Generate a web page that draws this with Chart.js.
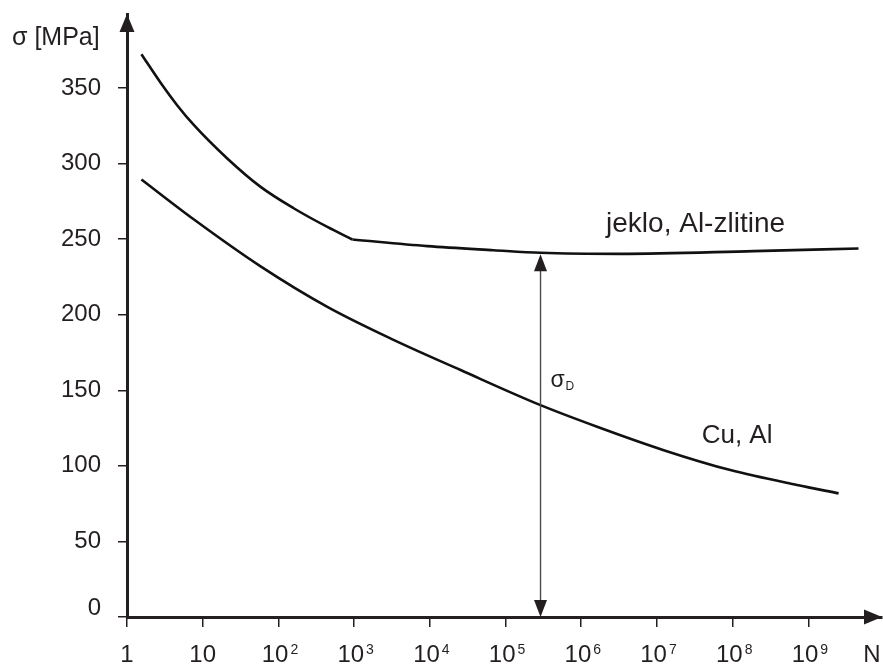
<!DOCTYPE html>
<html>
<head>
<meta charset="utf-8">
<script src="https://cdn.jsdelivr.net/npm/chart.js@4.4.1/dist/chart.umd.min.js"></script>
<style>
  html, body { margin: 0; padding: 0; background: #ffffff; }
  #wrap { width: 883px; height: 666px; }
</style>
</head>
<body>
<div id="wrap"><canvas id="chart" width="883" height="666"></canvas></div>
<script>
// Wöhler (S-N) curves: fatigue strength σ [MPa] against number of load cycles N.

// Steel / Al alloys: falling branch down to the knee at ~10^3 cycles
const steelDropN     = [1.55, 2.78, 4.62, 7.67, 21.1, 58.2, 161, 443, 948];
const steelDropSigma = [372.4, 353.5, 338.5, 325.4, 303.4, 284.6, 270.3, 258.1, 249.8];

// Steel / Al alloys: nearly horizontal endurance branch after the knee
const steelLimitN     = [948, 9.3e3, 7.0e4, 2.9e5, 3.3e6, 1.9e8, 4.6e9];
const steelLimitSigma = [249.8, 245.4, 242.7, 241.0, 240.3, 242.1, 243.8];

// Cu, Al: keeps falling, no distinct endurance limit
const cuAlN     = [1.55, 7.67, 58.2, 443, 3.37e3, 2.55e4, 2.9e5, 1.62e6, 1.23e7, 9.33e7, 7.1e8, 2.51e9];
const cuAlSigma = [289.5, 263.0, 232.0, 205.2, 183.2, 163.4, 140.2, 125.9, 110.4, 97.2, 87.3, 81.8];

// Endurance strength σD marked at N = 2.9·10^5
const sigmaDN = 2.9e5;
const sigmaDValue = 241;

// Axis ticks
const xTickValues    = [1, 1e1, 1e2, 1e3, 1e4, 1e5, 1e6, 1e7, 1e8, 1e9];
const xTickBases     = ['1', '10', '10 ', '10 ', '10 ', '10 ', '10 ', '10 ', '10 ', '10 '];
const xTickExponents = ['', '', '2', '3', '4', '5', '6', '7', '8', '9'];
const yTickValues    = [0, 50, 100, 150, 200, 250, 300, 350];
const yTickLabels    = ['0', '50', '100', '150', '200', '250', '300', '350'];

const INK = '#231f20';
const FONT = "'Liberation Sans', Arial, Helvetica, sans-serif";

Chart.defaults.font.family = FONT;
Chart.defaults.color = INK;

const toPoints = (xs, ys) => xs.map((n, i) => ({ x: n, y: ys[i] }));

function arrowHead(ctx, tipX, tipY, dirX, dirY, len, halfW) {
  // dir is a unit vector pointing toward the tip
  const bx = tipX - dirX * len, by = tipY - dirY * len;
  const px = -dirY, py = dirX;
  ctx.beginPath();
  ctx.moveTo(tipX, tipY);
  ctx.lineTo(bx + px * halfW, by + py * halfW);
  ctx.lineTo(bx - px * halfW, by - py * halfW);
  ctx.closePath();
  ctx.fill();
}

const figureExtras = {
  id: 'figureExtras',
  afterDraw(chart) {
    const { ctx, chartArea: a, scales: { x, y } } = chart;
    ctx.save();
    ctx.fillStyle = INK;
    ctx.strokeStyle = INK;

    // arrowheads on the axes
    arrowHead(ctx, a.left, a.top, 0, -1, 18, 7.5);
    arrowHead(ctx, a.right, a.bottom, 1, 0, 18, 7.5);

    // exponents of the decade tick labels
    ctx.font = '14px ' + FONT;
    ctx.textAlign = 'left';
    ctx.textBaseline = 'alphabetic';
    xTickValues.forEach((v, i) => {
      if (!xTickExponents[i]) return;
      ctx.fillText(xTickExponents[i], x.getPixelForValue(v) + 12, a.bottom + 36.5);
    });

    // axis names
    ctx.font = '24px ' + FONT;
    ctx.textAlign = 'center';
    ctx.textBaseline = 'middle';
    ctx.fillText('N', a.right - 10, a.bottom + 38.5);
    ctx.font = '25px ' + FONT;
    ctx.textAlign = 'left';
    ctx.textBaseline = 'alphabetic';
    ctx.fillText('σ [MPa]', a.left - 115, 45);

    // σD double arrow between N-axis and the endurance branch
    const ax = x.getPixelForValue(sigmaDN);
    const yBottom = y.getPixelForValue(0);
    const yTop = y.getPixelForValue(sigmaDValue) + 1.5;
    ctx.strokeStyle = '#4a4a4a';
    ctx.fillStyle = INK;
    ctx.lineWidth = 1.4;
    ctx.beginPath();
    ctx.moveTo(ax, yTop + 10);
    ctx.lineTo(ax, yBottom - 10);
    ctx.stroke();
    arrowHead(ctx, ax, yTop, 0, -1, 17, 6.5);
    arrowHead(ctx, ax, yBottom, 0, 1, 17, 6.5);

    ctx.fillStyle = INK;
    ctx.font = '23px ' + FONT;
    ctx.fillText('σ', ax + 10, y.getPixelForValue(152.5));
    ctx.font = '12px ' + FONT;
    ctx.fillText('D', ax + 25, y.getPixelForValue(150.5));

    // curve names
    ctx.font = '28px ' + FONT;
    ctx.fillText('jeklo, Al-zlitine', x.getPixelForValue(2.13e6), y.getPixelForValue(254.9));
    ctx.font = '26px ' + FONT;
    ctx.fillText('Cu, Al', x.getPixelForValue(3.9e7), y.getPixelForValue(115));

    ctx.restore();
  }
};

const curveStyle = {
  borderColor: '#111111',
  borderWidth: 2.6,
  pointRadius: 0,
  pointHoverRadius: 0,
  fill: false,
  cubicInterpolationMode: 'monotone'
};

new Chart(document.getElementById('chart'), {
  type: 'line',
  data: {
    datasets: [
      Object.assign({ label: 'jeklo, Al-zlitine', data: toPoints(steelDropN, steelDropSigma) }, curveStyle),
      Object.assign({ label: 'jeklo, Al-zlitine', data: toPoints(steelLimitN, steelLimitSigma) }, curveStyle),
      Object.assign({ label: 'Cu, Al', data: toPoints(cuAlN, cuAlSigma) }, curveStyle)
    ]
  },
  options: {
    responsive: false,
    devicePixelRatio: 1,
    animation: false,
    layout: { padding: { top: 14, right: 1, left: 0, bottom: 0 } },
    plugins: { legend: { display: false }, tooltip: { enabled: false } },
    scales: {
      x: {
        type: 'logarithmic',
        position: 'bottom',
        min: 1,
        max: 9.4e9,
        afterBuildTicks: (s) => { s.ticks = xTickValues.map(v => ({ value: v })); },
        afterFit: (s) => { s.height = 49; s.paddingLeft = 0; s.paddingRight = 0; },
        grid: { display: true, drawOnChartArea: false, drawTicks: true, tickLength: 10, color: INK, lineWidth: 1.5 },
        border: { display: true, color: INK, width: 3 },
        ticks: {
          autoSkip: false,
          maxRotation: 0,
          minRotation: 0,
          padding: 14,
          font: { size: 24 },
          callback: (v, i) => xTickBases[i]
        }
      },
      y: {
        type: 'linear',
        min: 0,
        max: 399,
        afterBuildTicks: (s) => { s.ticks = yTickValues.map(v => ({ value: v })); },
        afterFit: (s) => { s.width = 127; s.paddingTop = 0; s.paddingBottom = 0; },
        grid: { display: true, drawOnChartArea: false, drawTicks: true, tickLength: 9, color: INK, lineWidth: 1.5 },
        border: { display: true, color: INK, width: 3 },
        ticks: {
          padding: 17,
          font: (c) => ({ size: 24, lineHeight: (c.tick && c.tick.value === 0) ? 0.7 : 1.2 }),
          callback: (v, i) => (i === 0 ? [yTickLabels[0], ''] : yTickLabels[i])
        }
      }
    }
  },
  plugins: [figureExtras]
});
</script>
</body>
</html>
